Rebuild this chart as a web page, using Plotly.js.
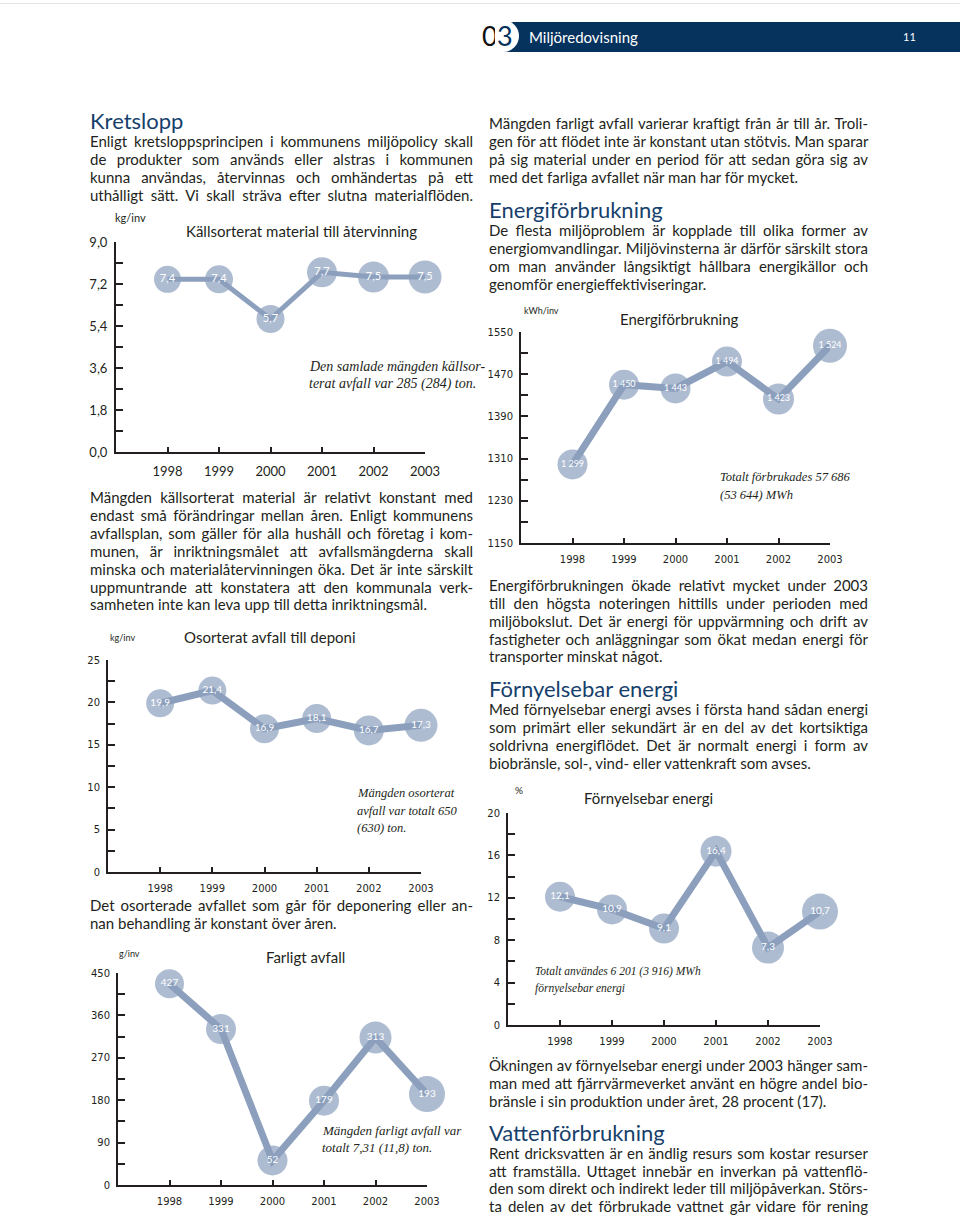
<!DOCTYPE html>
<html>
<head>
<meta charset="utf-8">
<script src="https://cdn.plot.ly/plotly-3.0.1.min.js"></script>
<style>
  html, body { margin:0; padding:0; background:#fff; }
  body { width:960px; height:1217px; position:relative; overflow:hidden; font-family: Lato, "Open Sans", sans-serif; color:#231f20; }
  .line { position:absolute; height:18px; line-height:18px; font-size:15px; white-space:nowrap; }
  .head { position:absolute; font-size:22px; line-height:22px; color:#173f6c; white-space:nowrap; }
  .chart { position:absolute; }
  #bar { position:absolute; left:495px; top:22px; width:465px; height:30px; background:#06325e; }
  #topline { position:absolute; left:0; top:3px; width:960px; height:1px; background:#e4e4e4; }
</style>
</head>
<body>
<div id="topline"></div>
<div id="bar"></div>
<div style="position:absolute;left:482px;top:20px;font-size:27px;line-height:32px;color:#111;font-family:Lato,sans-serif;">0</div>
<div style="position:absolute;left:495px;top:20px;width:24px;height:32px;border-radius:0 16px 16px 0;background:#fff;"></div>
<div style="position:absolute;left:497px;top:20px;font-size:27px;line-height:32px;color:#06325e;font-family:Lato,sans-serif;">3</div>
<div style="position:absolute;left:529px;top:28px;font-size:15px;line-height:18px;color:#fff;">Miljöredovisning</div>
<div style="position:absolute;left:903px;top:30px;font-size:11px;line-height:14px;color:#fff;">11</div>

<div id="c1" class="chart"></div>
<div id="c2" class="chart"></div>
<div id="c3" class="chart"></div>
<div id="c4" class="chart"></div>
<div id="c5" class="chart"></div>

<script>
// ---------------- DATA ----------------
const years = [1998, 1999, 2000, 2001, 2002, 2003];
const yearLabels = ['1998', '1999', '2000', '2001', '2002', '2003'];

const kallsorterat = [7.4, 7.4, 5.7, 7.7, 7.5, 7.5];          // kg/inv
const kallTicks = [0, 1.8, 3.6, 5.4, 7.2, 9.0];
const kallTickText = ['0,0', '1,8', '3,6', '5,4', '7,2', '9,0'];

const osorterat = [19.9, 21.4, 16.9, 18.1, 16.7, 17.3];       // kg/inv
const osortTicks = [0, 5, 10, 15, 20, 25];
const osortTickText = ['0', '5', '10', '15', '20', '25'];

const farligt = [427, 331, 52, 179, 313, 193];                // g/inv
const farligtTicks = [0, 90, 180, 270, 360, 450];
const farligtTickText = ['0', '90', '180', '270', '360', '450'];

const energi = [1299, 1450, 1443, 1494, 1423, 1524];          // kWh/inv
const energiTicks = [1150, 1230, 1310, 1390, 1470, 1550];
const energiTickText = ['1150', '1230', '1310', '1390', '1470', '1550'];

const fornybar = [12.1, 10.9, 9.1, 16.4, 7.3, 10.7];          // %
const fornybarTicks = [0, 4, 8, 12, 16, 20];
const fornybarTickText = ['0', '4', '8', '12', '16', '20'];

// ---------------- BODY TEXT ----------------
const leftX = 90, leftW = 383, rightX = 489, rightW = 379;
const lines = [
  // [x, width, centerY, text, justify]
  [leftX, leftW, 141, 'Enligt kretsloppsprincipen i kommunens miljöpolicy skall', true],
  [leftX, leftW, 159, 'de produkter som används eller alstras i kommunen', true],
  [leftX, leftW, 177, 'kunna användas, återvinnas och omhändertas på ett', true],
  [leftX, leftW, 195, 'uthålligt sätt. Vi skall sträva efter slutna materialflöden.', true],
  [leftX, leftW, 497, 'Mängden källsorterat material är relativt konstant med', true],
  [leftX, leftW, 515, 'endast små förändringar mellan åren. Enligt kommunens', true],
  [leftX, leftW, 533, 'avfallsplan, som gäller för alla hushåll och företag i kom-', true],
  [leftX, leftW, 551, 'munen, är inriktningsmålet att avfallsmängderna skall', true],
  [leftX, leftW, 569, 'minska och materialåtervinningen öka. Det är inte särskilt', true],
  [leftX, leftW, 587, 'uppmuntrande att konstatera att den kommunala verk-', true],
  [leftX, leftW, 604, 'samheten inte kan leva upp till detta inriktningsmål.', false],
  [leftX, leftW, 905, 'Det osorterade avfallet som går för deponering eller an-', true],
  [leftX, leftW, 923, 'nan behandling är konstant över åren.', false],

  [rightX, rightW, 123, 'Mängden farligt avfall varierar kraftigt från år till år. Troli-', true],
  [rightX, rightW, 141, 'gen för att flödet inte är konstant utan stötvis. Man sparar', true],
  [rightX, rightW, 159, 'på sig material under en period för att sedan göra sig av', true],
  [rightX, rightW, 177, 'med det farliga avfallet när man har för mycket.', false],
  [rightX, rightW, 230, 'De flesta miljöproblem är kopplade till olika former av', true],
  [rightX, rightW, 248, 'energiomvandlingar. Miljövinsterna är därför särskilt stora', true],
  [rightX, rightW, 266, 'om man använder långsiktigt hållbara energikällor och', true],
  [rightX, rightW, 284, 'genomför energieffektiviseringar.', false],
  [rightX, rightW, 585, 'Energiförbrukningen ökade relativt mycket under 2003', true],
  [rightX, rightW, 603, 'till den högsta noteringen hittills under perioden med', true],
  [rightX, rightW, 621, 'miljöbokslut. Det är energi för uppvärmning och drift av', true],
  [rightX, rightW, 639, 'fastigheter och anläggningar som ökat medan energi för', true],
  [rightX, rightW, 656, 'transporter minskat något.', false],
  [rightX, rightW, 709, 'Med förnyelsebar energi avses i första hand sådan energi', true],
  [rightX, rightW, 727, 'som primärt eller sekundärt är en del av det kortsiktiga', true],
  [rightX, rightW, 745, 'soldrivna energiflödet. Det är normalt energi i form av', true],
  [rightX, rightW, 763, 'biobränsle, sol-, vind- eller vattenkraft som avses.', false],
  [rightX, rightW, 1065, 'Ökningen av förnyelsebar energi under 2003 hänger sam-', true],
  [rightX, rightW, 1083, 'man med att fjärrvärmeverket använt en högre andel bio-', true],
  [rightX, rightW, 1101, 'bränsle i sin produktion under året, 28 procent (17).', false],
  [rightX, rightW, 1153, 'Rent dricksvatten är en ändlig resurs som kostar resurser', true],
  [rightX, rightW, 1171, 'att framställa. Uttaget innebär en inverkan på vattenflö-', true],
  [rightX, rightW, 1188, 'den som direkt och indirekt leder till miljöpåverkan. Störs-', true],
  [rightX, rightW, 1206, 'ta delen av det förbrukade vattnet går vidare för rening', true]
];
const heads = [
  [leftX, 121, 'Kretslopp'],
  [rightX, 210, 'Energiförbrukning'],
  [rightX, 689, 'Förnyelsebar energi'],
  [rightX, 1133, 'Vattenförbrukning']
];

function layoutText() {
  heads.forEach(h => {
    const d = document.createElement('div');
    d.className = 'head';
    d.style.left = h[0] + 'px';
    d.style.top = (h[1] - 11) + 'px';
    d.textContent = h[2];
    document.body.appendChild(d);
  });
  lines.forEach(l => {
    const d = document.createElement('div');
    d.className = 'line';
    d.style.left = l[0] + 'px';
    d.style.top = (l[2] - 9) + 'px';
    const s = document.createElement('span');
    s.textContent = l[3];
    d.appendChild(s);
    document.body.appendChild(d);
    const w = s.getBoundingClientRect().width;
    const spaces = (l[3].match(/ /g) || []).length;
    if (w > l[1]) {
      s.style.letterSpacing = ((l[1] - w) / l[3].length) + 'px';
    } else if (l[4] && spaces > 0) {
      s.style.wordSpacing = ((l[1] - w) / spaces) + 'px';
    }
  });
}

// ---------------- CHARTS ----------------
const mColor = '#8ca0be';
const axisColor = '#231f20';
const ML = 60, MR = 60, MT = 50, MB = 32;

function ann(g, px, py, text, font, xa, ya) {
  return {
    xref: 'paper', yref: 'paper',
    x: (px - g.L) / (g.R - g.L), y: (g.B - py) / (g.B - g.T),
    text: text, showarrow: false, xanchor: xa || 'left', yanchor: ya || 'middle',
    align: 'left', font: font
  };
}

function drawChart(id, g, vals, labels, sizes, lw, yr, tv, tt, minorStep, tickFont, textSize, extra) {
  const el = document.getElementById(id);
  const W = g.R - g.L + ML + MR, H = g.B - g.T + MT + MB;
  el.style.left = (g.L - ML) + 'px';
  el.style.top = (g.T - MT) + 'px';
  const titleFont = {family: 'Lato, sans-serif', size: 15, color: '#231f20'};
  const unitFont = {family: 'Lato, sans-serif', size: extra.unitSize, color: '#231f20'};
  const noteFont = {family: '"Liberation Serif", serif', size: extra.noteSize, color: '#231f20'};
  const annotations = [
    ann(g, extra.unit[0], extra.unit[1], extra.unit[2], unitFont, 'left', 'middle'),
    ann(g, extra.title[0], extra.title[1], extra.title[2], titleFont, 'center', 'middle')
  ];
  extra.note[2].forEach((t, i) => {
    annotations.push(ann(g, extra.note[0], extra.note[1] + i * 17.5, '<i>' + t + '</i>', noteFont, 'left', 'middle'));
  });
  const trace = {
    x: years, y: vals, type: 'scatter', mode: 'lines+markers+text',
    line: {color: mColor, width: lw},
    marker: {color: mColor, size: sizes, line: {width: 0}},
    text: labels, textposition: 'middle center',
    textfont: {family: 'Lato, sans-serif', size: textSize, color: '#ffffff'},
    cliponaxis: false, hoverinfo: 'skip'
  };
  const layout = {
    width: W, height: H,
    margin: {l: ML, r: MR, t: MT, b: MB, pad: 0},
    paper_bgcolor: 'rgba(0,0,0,0)', plot_bgcolor: 'rgba(0,0,0,0)',
    showlegend: false,
    xaxis: {
      range: [1997, 2003], showline: true, linecolor: axisColor, linewidth: 2,
      ticks: 'inside', ticklen: 5, tickwidth: 2, tickcolor: axisColor,
      tickmode: 'array', tickvals: years, ticktext: yearLabels,
      showgrid: false, zeroline: false, tickfont: tickFont, ticklabelstandoff: 6
    },
    yaxis: {
      range: yr, showline: true, linecolor: axisColor, linewidth: 2,
      ticks: 'inside', ticklen: 7, tickwidth: 2, tickcolor: axisColor,
      tickmode: 'array', tickvals: tv, ticktext: tt,
      minor: {tickmode: 'linear', tick0: yr[0], dtick: minorStep, ticks: 'inside', ticklen: 7, tickwidth: 2, tickcolor: axisColor, showgrid: false},
      showgrid: false, zeroline: false, tickfont: tickFont, ticklabelstandoff: 4
    },
    annotations: annotations
  };
  Plotly.newPlot(el, [trace], layout, {staticPlot: true, displayModeBar: false});
}

const dec1 = v => v.toFixed(1).replace('.', ',');
const thou = v => String(v).replace(/\B(?=(\d{3})+(?!\d))/g, ' ');

const bigTick = {family: 'Lato, sans-serif', size: 13, color: '#231f20'};
const smallTick = {family: '"DejaVu Sans", sans-serif', size: 10, color: '#231f20'};

const g1 = {L: 116, R: 425, T: 242, B: 452};
drawChart('c1', g1, kallsorterat, kallsorterat.map(dec1), [27, 28, 28, 30, 31, 33], 5,
  [0, 9], kallTicks, kallTickText, 0.9, bigTick, 11,
  {unit: [113, 218, 'kg/inv'], unitSize: 11, noteSize: 14,
   title: [301, 231, 'Källsorterat material till återvinning'],
   note: [307, 366, ['Den samlade mängden källsor-', 'terat avfall var 285 (284) ton.']]});

const g2 = {L: 108, R: 421, T: 660, B: 872};
drawChart('c2', g2, osorterat, osorterat.map(dec1), [28, 28, 29, 29, 30, 33], 7,
  [0, 25], osortTicks, osortTickText, 2.5, smallTick, 10,
  {unit: [108, 637, 'kg/inv'], unitSize: 9, noteSize: 12.5,
   title: [270, 637, 'Osorterat avfall till deponi'],
   note: [355, 793, ['Mängden osorterat', 'avfall var totalt 650', '(630) ton.']]});

const g3 = {L: 118, R: 427, T: 973, B: 1185};
drawChart('c3', g3, farligt, farligt.map(String), [29, 30, 30, 30, 32, 36], 7,
  [0, 450], farligtTicks, farligtTickText, 45, smallTick, 10,
  {unit: [117, 953, 'g/inv'], unitSize: 9, noteSize: 13,
   title: [305, 957, 'Farligt avfall'],
   note: [320, 1130, ['Mängden farligt avfall var', 'totalt 7,31 (11,8) ton.']]});

const g4 = {L: 521, R: 830, T: 332, B: 543};
drawChart('c4', g4, energi, energi.map(thou), [30, 30, 30, 30, 31, 34], 7,
  [1150, 1550], energiTicks, energiTickText, 40, smallTick, 9,
  {unit: [522, 310, 'kWh/inv'], unitSize: 9, noteSize: 12.5,
   title: [679, 319, 'Energiförbrukning'],
   note: [718, 477, ['Totalt förbrukades 57 686', '(53 644) MWh']]});

const g5 = {L: 508, R: 820, T: 813, B: 1025};
drawChart('c5', g5, fornybar, fornybar.map(dec1), [30, 30, 30, 31, 32, 36], 7,
  [0, 20], fornybarTicks, fornybarTickText, 2, smallTick, 10,
  {unit: [513, 790, '%'], unitSize: 10, noteSize: 11.5,
   title: [648, 798, 'Förnyelsebar energi'],
   note: [533, 971, ['Totalt användes 6 201 (3 916) MWh', 'förnyelsebar energi']]});

if (document.fonts && document.fonts.ready) {
  document.fonts.ready.then(layoutText);
} else {
  layoutText();
}
</script>
</body>
</html>
